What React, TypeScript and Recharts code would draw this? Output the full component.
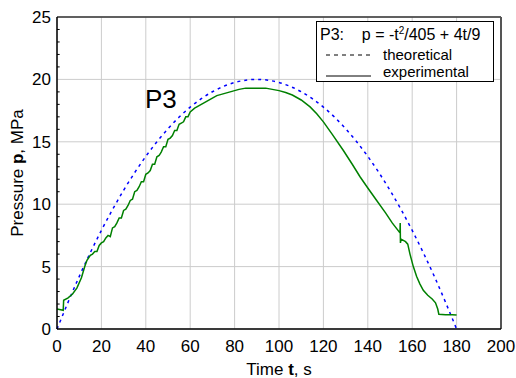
import React from 'react';
import {
  LineChart,
  Line,
  XAxis,
  YAxis,
  CartesianGrid,
  ReferenceLine,
} from 'recharts';

// theoretical curve at 10 s steps
const theoTime = [0, 10, 20, 30, 40, 50, 60, 70, 80, 90, 100, 110, 120, 130, 140, 150, 160, 170, 180];
const theoPressure = [0, 4.2, 7.9, 11.11, 13.83, 16.05, 17.78, 19.01, 19.75, 20.0, 19.75, 19.01, 17.78, 16.05, 13.83, 11.11, 7.9, 4.2, 0];

// measured curve
const expTime = [
  0, 2.8, 3.0, 5, 7, 9, 11, 12.5, 13.5, 15, 16, 17, 18, 19, 20, 21, 22, 23, 24, 25,
  26, 27, 28, 29, 30, 31, 32, 33, 34, 35, 36, 37, 38, 39, 40, 41, 42, 43, 44, 45,
  46, 47, 48, 49, 50, 51, 52, 53, 54, 55, 56, 57, 58, 59, 60, 62, 64, 66, 68, 70,
  72, 74, 76, 78, 80, 82, 85, 88, 91, 94, 97, 100, 103, 106, 110, 114, 117, 120, 124, 129,
  133, 136.5, 140, 144, 148, 151, 154.5, 154.6, 154.7, 155, 156, 157, 158, 159, 160.5, 162, 163.5, 165, 167, 169,
  170.5, 171.5, 172, 175, 178, 180,
];
const expPressure = [
  1.6, 1.5, 2.3, 2.5, 2.8, 3.3, 4.1, 5.0, 5.5, 5.9, 6.0, 6.2, 6.2, 6.7, 6.9, 7.0, 7.3, 7.5, 7.4, 8.1,
  8.2, 8.5, 8.9, 8.9, 9.5, 9.6, 9.9, 10.3, 10.4, 11.0, 11.1, 11.4, 11.8, 11.8, 12.4, 12.5, 12.7, 13.2, 13.2, 13.8,
  13.9, 14.2, 14.6, 14.6, 15.2, 15.3, 15.5, 15.9, 15.9, 16.4, 16.5, 16.6, 17.0, 17.0, 17.4, 17.7, 17.9, 18.1, 18.3, 18.5,
  18.7, 18.8, 18.9, 19.0, 19.1, 19.2, 19.3, 19.3, 19.3, 19.3, 19.2, 19.1, 18.95, 18.75, 18.35, 17.8, 17.25, 16.6, 15.6, 14.3,
  13.2, 12.2, 11.3, 10.3, 9.3, 8.5, 7.7, 8.5, 6.9, 7.2, 7.1, 7.0, 6.8, 6.0, 5.0, 4.2, 3.6, 3.1, 2.7, 2.4,
  2.1, 1.6, 1.18, 1.15, 1.15, 1.12,
];

const xTicks = [0, 20, 40, 60, 80, 100, 120, 140, 160, 180, 200];
const yTicks = [0, 5, 10, 15, 20, 25];
const yMinorTicks = [1, 2, 3, 4, 6, 7, 8, 9, 11, 12, 13, 14, 16, 17, 18, 19, 21, 22, 23, 24];

const theoData = theoTime.map((t, i) => ({ t, p: theoPressure[i] }));
const expData = expTime.map((t, i) => ({ t, p: expPressure[i] }));

const font = '"Liberation Sans", Arial, sans-serif';

const App = () => {
  return (
    <div style={{ position: 'absolute', left: 0, top: 0, width: 516, height: 378, background: '#fff', fontFamily: font }}>
      <LineChart width={516} height={378} margin={{ top: 17, right: 15, bottom: 19, left: 7 }}>
        <CartesianGrid stroke="#cccccc" strokeWidth={1} />
        <XAxis
          dataKey="t"
          type="number"
          domain={[0, 200]}
          ticks={xTicks}
          height={30}
          tickLine={false}
          tickSize={0}
          tickMargin={11}
          axisLine={{ stroke: '#000', strokeWidth: 1.5 }}
          tick={{ fill: '#000', fontSize: 17, fontFamily: font }}
          allowDuplicatedCategory={false}
        />
        <YAxis
          type="number"
          domain={[0, 25]}
          ticks={yTicks}
          width={50}
          tickLine={false}
          tickSize={0}
          tickMargin={6}
          axisLine={{ stroke: '#000', strokeWidth: 1.5 }}
          tick={{ fill: '#000', fontSize: 17, fontFamily: font }}
        />
        {/* small minor ticks inside the y axis */}
        {yMinorTicks.map((v) => (
          <ReferenceLine
            key={`minor-${v}`}
            segment={[{ x: 0, y: v }, { x: 1.2, y: v }]}
            stroke="#000"
            strokeWidth={1}
          />
        ))}
        <ReferenceLine y={25} stroke="#333" strokeWidth={1.5} />
        <ReferenceLine x={200} stroke="#555" strokeWidth={2} />
        <Line
          data={theoData}
          dataKey="p"
          type="monotone"
          stroke="#0000ff"
          strokeWidth={1.5}
          strokeDasharray="3 4"
          dot={false}
          isAnimationActive={false}
        />
        <Line
          data={expData}
          dataKey="p"
          type="linear"
          stroke="#008000"
          strokeWidth={1.5}
          dot={false}
          isAnimationActive={false}
        />
      </LineChart>

      <div style={{ position: 'absolute', left: 145, top: 84, fontSize: 26, color: '#000' }}>P3</div>

      <div
        style={{
          position: 'absolute',
          left: 316,
          top: 21,
          width: 176,
          height: 59,
          border: '1px solid #000',
          background: '#fff',
          color: '#000',
        }}
      >
        <div style={{ position: 'absolute', left: 3, top: 3, fontSize: 16, whiteSpace: 'nowrap' }}>
          P3:&nbsp;&nbsp;&nbsp; p = -t<sup style={{ fontSize: 10 }}>2</sup>/405 + 4t/9
        </div>
        <svg style={{ position: 'absolute', left: 0, top: 0 }} width={176} height={59}>
          <line x1={9} y1={33} x2={54} y2={33} stroke="#000" strokeDasharray="4 4" />
          <line x1={9} y1={54} x2={54} y2={54} stroke="#000" />
        </svg>
        <div style={{ position: 'absolute', left: 66, top: 24, fontSize: 15, whiteSpace: 'nowrap' }}>theoretical</div>
        <div style={{ position: 'absolute', left: 66, top: 41, fontSize: 15, whiteSpace: 'nowrap' }}>experimental</div>
      </div>

      <div style={{ position: 'absolute', left: 0, top: 360, width: 558, textAlign: 'center', fontSize: 17, color: '#000' }}>
        Time <b>t</b>, s
      </div>

      <div
        style={{
          position: 'absolute',
          left: 18,
          top: 173,
          transform: 'translate(-50%, -50%) rotate(-90deg)',
          fontSize: 17,
          whiteSpace: 'nowrap',
          color: '#000',
        }}
      >
        Pressure <b>p</b>, MPa
      </div>
    </div>
  );
};

export default App;
